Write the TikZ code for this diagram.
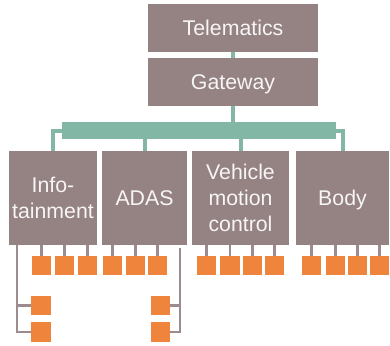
\documentclass[tikz,border=0pt]{standalone}
\usepackage{fontspec}
\setmainfont{Liberation Sans}
\definecolor{boxc}{HTML}{958283}
\definecolor{txtc}{HTML}{F7F5F5}
\definecolor{orng}{HTML}{EF843C}
\definecolor{grn}{HTML}{82B6A5}
\definecolor{lnc}{HTML}{9C8B8F}
\definecolor{shc}{HTML}{D6CDCF}
\tikzset{
  box/.style={fill=boxc, draw=none, text=txtc, align=center, inner sep=0pt,
    text depth=0pt, font=\fontsize{21.3}{26}\selectfont},
  sq/.style={fill=orng, draw=none, minimum width=19, minimum height=19, inner sep=0pt},
  gl/.style={draw=grn, line width=4},
  cl/.style={draw=lnc, line width=2.2},
  sh/.style={draw=shc, line width=2.2, xshift=1.2pt, yshift=-1.2pt},
}
\begin{document}
\begin{tikzpicture}[x=1pt,y=-1pt]
\useasboundingbox (0,0) rectangle (390,345);
% top boxes
\node[box, minimum width=170, minimum height=48] (tel) at (233,28) {Telematics};
\node[box, minimum width=170, minimum height=48] (gw) at (233,82) {Gateway};
\draw[gl] (tel.south) -- (gw.north);
% bus
\node[fill=grn, draw=none, minimum width=274, minimum height=17, inner sep=0pt] (bus) at (199,130.5) {};
\draw[gl] (gw.south) -- (gw.south |- bus.north);
% domain boxes
\node[box, minimum width=88, minimum height=94] (info) at (53,198) {Info-\\tainment};
\node[box, minimum width=85, minimum height=94] (adas) at (144.5,198) {ADAS};
\node[box, minimum width=97, minimum height=94] (vmc) at (240.5,198) {Vehicle\\motion\\control};
\node[box, minimum width=93, minimum height=94] (body) at (342.5,198) {Body};
\draw[gl] (bus.west) -| (info.north);
\draw[gl] (adas.north |- bus.south) -- (adas.north);
\draw[gl] (vmc.north |- bus.south) -- (vmc.north);
\draw[gl] (bus.east) -| (body.north);
% squares row
\foreach \n/\x in {i1/41.5,i2/64.5,i3/87.5,a1/112.5,a2/135.5,a3/157.5,
                   v1/206.5,v2/230,v3/252.5,v4/274.5,b1/311.5,b2/335.5,b3/357.5,b4/379.5}{
  \node[sq] (\n) at (\x,265.5) {};
}
% lower squares
\node[sq] (il1) at (41,305.5) {};
\node[sq] (il2) at (41,332) {};
\node[sq] (al1) at (160.5,305.5) {};
\node[sq] (al2) at (160.5,332) {};
\coordinate (ti) at (17,245);
\coordinate (ta) at (180,248);
% connectors (shadow then line)
\foreach \n/\b in {i1/info,i2/info,i3/info,a1/adas,a2/adas,a3/adas,
                   v1/vmc,v2/vmc,v3/vmc,v4/vmc,b1/body,b2/body,b3/body,b4/body}{
  \draw[sh] (\n.north |- \b.south) -- (\n.north);
  \draw[cl] (\n.north |- \b.south) -- (\n.north);
}
\draw[sh] (ti) |- (il2.west);
\draw[sh] (il1.west -| ti) -- (il1.west);
\draw[sh] (ta) |- (al2.east);
\draw[sh] (al1.east -| ta) -- (al1.east);
\draw[cl] (ti) |- (il2.west);
\draw[cl] (il1.west -| ti) -- (il1.west);
\draw[cl] (ta) |- (al2.east);
\draw[cl] (al1.east -| ta) -- (al1.east);
% redraw squares on top of lines
\foreach \n in {i1,i2,i3,a1,a2,a3,v1,v2,v3,v4,b1,b2,b3,b4,il1,il2,al1,al2}{
  \fill[orng] (\n.south west) rectangle (\n.north east);
}
\end{tikzpicture}
\end{document}
